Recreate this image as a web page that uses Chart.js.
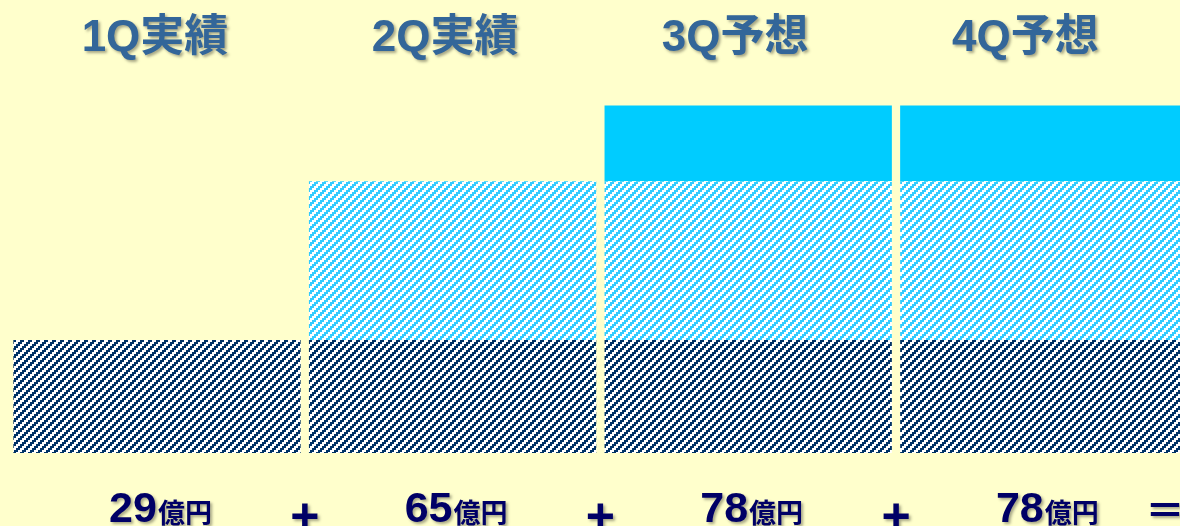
<!DOCTYPE html>
<html>
<head>
<meta charset="utf-8">
<script src="https://cdn.jsdelivr.net/npm/chart.js@4"></script>
<style>
    html, body { margin: 0; padding: 0; background: #FFFFCC; overflow: hidden; }
    #wrap { position: absolute; left: 0; top: 0; width: 1200px; height: 526px; }
</style>
</head>
<body>
<div id="wrap"><canvas id="qChart" width="1200" height="526"></canvas></div>
<script>
// categories and values
const quarters = ['1Q実績', '2Q実績', '3Q予想', '4Q予想'];
const amounts = [29, 65, 78, 78];          // 億円, printed under the bars
const operators = ['+', '+', '+', '＝'];

// segment heights as drawn (hidden axis 0..100)
const darkPart = [29, 29, 29, 29];
const lightPart = [null, 40.7, 40.7, 40.7];
const cyanPart = [null, null, 19.4, 19.4];

// "/" stripes in 2px steps, 8px period
function makeHatch(color) {
    const size = 8;
    const c = document.createElement('canvas');
    c.width = size;
    c.height = size;
    const g = c.getContext('2d');
    g.fillStyle = '#FFFFFF';
    g.fillRect(0, 0, size, size);
    g.fillStyle = color;
    for (let y = 0; y < size; y += 2) {
        for (let x = 0; x < size; x += 2) {
            if (((x + y) / 2) % 4 < 2) g.fillRect(x, y, 2, 2);
        }
    }
    return g.createPattern(c, 'repeat');
}

const textLabels = {
    id: 'textLabels',
    afterDraw(chart) {
        const { ctx } = chart;
        const xs = chart.scales.x;
        const pitch = xs.getPixelForValue(1) - xs.getPixelForValue(0);

        ctx.save();
        ctx.shadowColor = 'rgba(0,0,0,0.35)';
        ctx.shadowOffsetX = 2;
        ctx.shadowOffsetY = 2;
        ctx.shadowBlur = 3;
        ctx.textBaseline = 'alphabetic';

        // quarter titles
        ctx.font = 'bold 44px "Liberation Sans", "Noto Sans CJK JP", sans-serif';
        ctx.fillStyle = '#336699';
        ctx.textAlign = 'center';
        quarters.forEach((q, i) => {
            const x = xs.getPixelForValue(i) - 2 - 5.5 * i;
            ctx.fillText(q, x, 51);
        });

        // amounts
        ctx.fillStyle = '#000066';
        ctx.textAlign = 'left';
        amounts.forEach((v, i) => {
            const num = String(v);
            const unit = '億円';
            ctx.font = 'bold 43px "Liberation Sans", "Noto Sans CJK JP", sans-serif';
            const wNum = ctx.measureText(num).width;
            ctx.font = 'bold 27px "Noto Sans CJK JP", sans-serif';
            const wUnit = ctx.measureText(unit).width;
            let x = xs.getPixelForValue(i) - (wNum + wUnit) / 2 + 3;
            ctx.font = 'bold 43px "Liberation Sans", "Noto Sans CJK JP", sans-serif';
            ctx.fillText(num, x, 522);
            ctx.font = 'bold 27px "Noto Sans CJK JP", sans-serif';
            ctx.fillText(unit, x + wNum + 1, 523);
        });

        // + and =
        ctx.textAlign = 'center';
        operators.forEach((op, i) => {
            let x = xs.getPixelForValue(i) + pitch / 2;
            if (op === '＝') {
                x = xs.getPixelForValue(i) + pitch * 0.41;
                ctx.font = 'bold 40px "Noto Sans CJK JP", sans-serif';
                ctx.fillText(op, x, 525);
            } else {
                ctx.font = 'bold 50px "Liberation Sans", sans-serif';
                ctx.fillText(op, x, 533);
            }
        });
        ctx.restore();
    }
};

const ctx = document.getElementById('qChart').getContext('2d');

new Chart(ctx, {
    type: 'bar',
    data: {
        labels: quarters,
        datasets: [
            { label: 'dark', data: darkPart, backgroundColor: makeHatch('#003366'), borderWidth: 0 },
            { label: 'light', data: lightPart, backgroundColor: makeHatch('#33CCFF'), borderWidth: 0 },
            { label: 'cyan', data: cyanPart, backgroundColor: '#00CCFF', borderWidth: 0 }
        ]
    },
    options: {
        responsive: false,
        animation: false,
        layout: { padding: { left: 9.2, right: 8.4, top: 63, bottom: 73 } },
        plugins: { legend: { display: false }, tooltip: { enabled: false } },
        datasets: { bar: { categoryPercentage: 1, barPercentage: 0.972 } },
        scales: {
            x: { display: false, stacked: true },
            y: { display: false, stacked: true, min: 0, max: 100 }
        }
    },
    plugins: [textLabels]
});
</script>
</body>
</html>
